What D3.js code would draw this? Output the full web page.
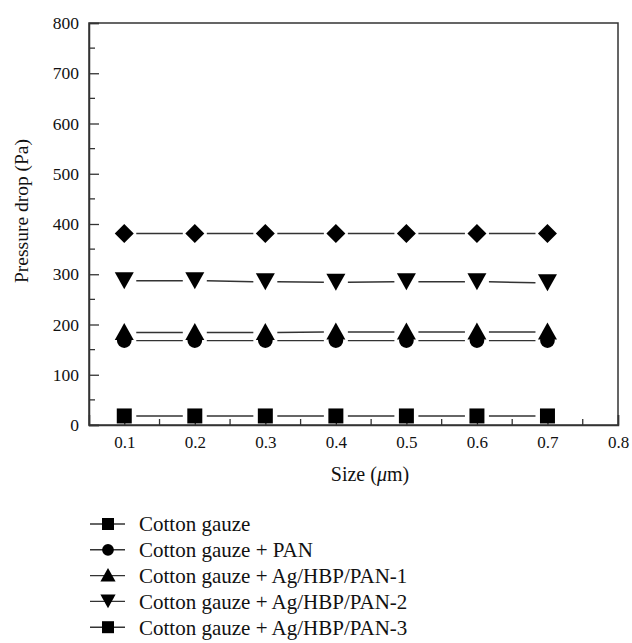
<!DOCTYPE html>
<html>
<head>
<meta charset="utf-8">
<script src="https://cdn.jsdelivr.net/npm/d3@7"></script>
<style>
  body { margin: 0; background: #fff; }
  svg text { font-family: "Liberation Serif", "DejaVu Serif", serif; }
</style>
</head>
<body>
<svg id="chart" width="632" height="643"></svg>
<script>
// data
const sizes = [0.1, 0.2, 0.3, 0.4, 0.5, 0.6, 0.7];
const cottonGauze = [18, 18, 18, 18, 18, 18, 18];
const cottonPAN = [168, 168, 168, 168, 168, 168, 168];
const agHbpPan1 = [184, 184, 184, 185, 185, 185, 185];
const agHbpPan2 = [287, 287, 285, 284, 285, 285, 283];
const agHbpPan3 = [381, 381, 381, 381, 381, 381, 381];
const yTicks = [0, 100, 200, 300, 400, 500, 600, 700, 800];
const xTicks = [0.1, 0.2, 0.3, 0.4, 0.5, 0.6, 0.7, 0.8];

const series = [
  { name: 'Cotton gauze', values: cottonGauze, shape: 'square', legendShape: 'square' },
  { name: 'Cotton gauze + PAN', values: cottonPAN, shape: 'circle', legendShape: 'circle' },
  { name: 'Cotton gauze + Ag/HBP/PAN-1', values: agHbpPan1, shape: 'up', legendShape: 'up' },
  { name: 'Cotton gauze + Ag/HBP/PAN-2', values: agHbpPan2, shape: 'down', legendShape: 'down' },
  { name: 'Cotton gauze + Ag/HBP/PAN-3', values: agHbpPan3, shape: 'diamond', legendShape: 'square' }
];

const margin = { left: 89, right: 14, top: 23, bottom: 218 };
const width = 632, height = 643;

const svg = d3.select('#chart');

const x = d3.scaleLinear().domain([0.05, 0.8]).range([margin.left, width - margin.right]);
const y = d3.scaleLinear().domain([0, 800]).range([height - margin.bottom, margin.top]);

const ink = '#111';

// marker paths centered at 0,0
function markerPath(shape) {
  switch (shape) {
    case 'square': return 'M-7.5,-7.5H7.5V7.5H-7.5Z';
    case 'circle': return d3.symbol(d3.symbolCircle, 170)();
    case 'up': return 'M0,-9.5L9.5,7.5H-9.5Z';
    case 'down': return 'M0,8.5L9.5,-8.5H-9.5Z';
    case 'diamond': return 'M0,-9.5L9.5,0L0,9.5L-9.5,0Z';
  }
}

// frame
svg.append('rect')
  .attr('x', x(0.05)).attr('y', y(800))
  .attr('width', x(0.8) - x(0.05)).attr('height', y(0) - y(800))
  .attr('fill', 'none').attr('stroke', '#333').attr('stroke-width', 1.5);

// y axis (ticks inward)
const yAxis = d3.axisLeft(y).tickValues(yTicks).tickSize(-10).tickPadding(10).tickFormat(d3.format('d'));
const gy = svg.append('g').attr('transform', `translate(${x(0.05)},0)`).call(yAxis);
gy.attr('font-family', null);
gy.select('.domain').attr('stroke', '#333').attr('stroke-width', 1.5);
gy.selectAll('.tick line').attr('stroke', '#333').attr('stroke-width', 1.3);
gy.selectAll('.tick text').attr('font-size', 17.5).attr('fill', ink);
// minor y ticks
svg.append('g').selectAll('line')
  .data(d3.range(50, 800, 100))
  .join('line')
  .attr('x1', x(0.05)).attr('x2', x(0.05) + 6)
  .attr('y1', d => y(d)).attr('y2', d => y(d))
  .attr('stroke', '#333').attr('stroke-width', 1.3);

// x axis (ticks inward)
const xAxis = d3.axisBottom(x).tickValues(xTicks).tickSize(-10).tickPadding(11).tickFormat(d3.format('.1f'));
const gx = svg.append('g').attr('transform', `translate(0,${y(0)})`).call(xAxis);
gx.attr('font-family', null);
gx.select('.domain').attr('stroke', '#333').attr('stroke-width', 1.5);
gx.selectAll('.tick line').attr('stroke', '#333').attr('stroke-width', 1.3);
gx.selectAll('.tick text').attr('font-size', 17).attr('fill', ink);
svg.append('g').selectAll('line')
  .data(d3.range(0.15, 0.8, 0.1))
  .join('line')
  .attr('x1', d => x(d)).attr('x2', d => x(d))
  .attr('y1', y(0)).attr('y2', y(0) - 6)
  .attr('stroke', '#333').attr('stroke-width', 1.3);

// axis titles
svg.append('text')
  .attr('transform', 'translate(28,211) rotate(-90)')
  .attr('text-anchor', 'middle')
  .attr('font-size', 19.5).attr('fill', ink)
  .text('Pressure drop (Pa)');

const xt = svg.append('text')
  .attr('x', 370).attr('y', 481)
  .attr('text-anchor', 'middle')
  .attr('font-size', 20).attr('fill', ink);
xt.append('tspan').text('Size (');
xt.append('tspan').attr('font-style', 'italic').text('\u03bc');
xt.append('tspan').text('m)');

// series: line segments with gaps around markers, then markers
const gap = 12;
series.forEach(s => {
  const pts = sizes.map((d, i) => [x(d), y(s.values[i])]);
  const segs = d3.pairs(pts);
  svg.append('g').selectAll('line')
    .data(segs)
    .join('line')
    .attr('x1', d => d[0][0] + gap).attr('y1', d => d[0][1])
    .attr('x2', d => d[1][0] - gap).attr('y2', d => d[1][1])
    .attr('stroke', '#333').attr('stroke-width', 1.4);

  svg.append('g').selectAll('path')
    .data(pts)
    .join('path')
    .attr('transform', d => `translate(${d[0]},${d[1]})`)
    .attr('d', markerPath(s.shape))
    .attr('fill', '#000');
});

// legend
const legend = svg.append('g').attr('transform', 'translate(90,524)');
const rows = legend.selectAll('g')
  .data(series)
  .join('g')
  .attr('transform', (d, i) => `translate(0,${i * 25.8})`);
rows.append('line')
  .attr('x1', 0).attr('x2', 35).attr('y1', 0).attr('y2', 0)
  .attr('stroke', '#333').attr('stroke-width', 1.4);
rows.append('path')
  .attr('transform', 'translate(18,0) scale(0.8)')
  .attr('d', d => markerPath(d.legendShape))
  .attr('fill', '#000');
rows.append('text')
  .attr('x', 49).attr('y', 0).attr('dy', '0.35em')
  .attr('font-size', 21).attr('fill', ink)
  .text(d => d.name);
</script>
</body>
</html>
